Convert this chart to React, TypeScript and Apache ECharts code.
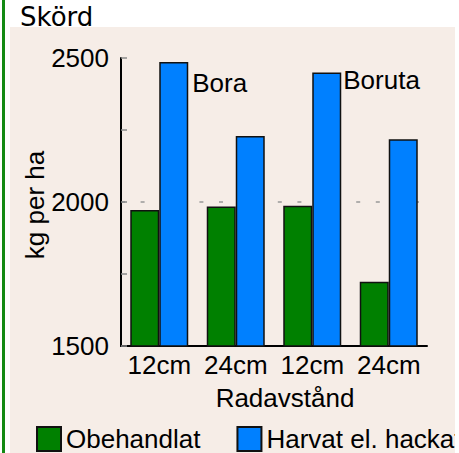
import React, { useEffect, useRef } from "react";
import * as echarts from "echarts";

const categories = ["12cm", "24cm", "12cm", "24cm"];
const untreated = [1972, 1984, 1987, 1723];
const harrowed = [2486, 2229, 2450, 2218];
const varietyLabels = ["Bora", "", "Boruta", ""];
const seriesNames = ["Obehandlat", "Harvat el. hackat"];
const yMin = 1500;
const yMax = 2500;
const yTickStep = 250;
const yLabelStep = 500;

const FONT = "'Liberation Sans', Arial, sans-serif";

export default function App() {
  const ref = useRef<HTMLDivElement>(null);

  useEffect(() => {
    if (!ref.current) return;
    const chart = echarts.init(ref.current, undefined, { renderer: "svg" });
    const labelOffsets: Record<number, [string | number, number]> = {
      0: ["100%", 8],
      2: ["100%", -5],
    };
    const blueData = harrowed.map((v, i) =>
      varietyLabels[i]
        ? {
            value: v,
            label: {
              show: true,
              formatter: varietyLabels[i],
              position: labelOffsets[i] || ["100%", 0],
              offset: [i === 0 ? 4 : 2, 0],
              fontSize: 26,
              fontFamily: FONT,
              color: "#000",
            },
          }
        : v
    );
    chart.setOption({
      animation: false,
      backgroundColor: "transparent",
      textStyle: { fontFamily: FONT },
      title: {
        text: "Skörd",
        left: 20,
        top: 4,
        padding: 0,
        textStyle: {
          fontFamily: "'DejaVu Sans', sans-serif",
          fontSize: 26,
          fontWeight: "normal",
          color: "#000",
        },
      },
      grid: { left: 121, right: 28, top: 58, bottom: 107 },
      legend: {
        data: seriesNames,
        left: 36,
        top: 426,
        width: 900,
        padding: 0,
        icon: "rect",
        itemWidth: 24,
        itemHeight: 24,
        itemGap: 36,
        textStyle: { fontSize: 26, color: "#000", fontFamily: FONT },
      },
      xAxis: {
        type: "category",
        data: categories,
        name: "Radavstånd",
        nameLocation: "middle",
        nameGap: 39,
        nameMoveOverlap: false,
        nameTextStyle: {
          fontSize: 26,
          color: "#000",
          fontFamily: FONT,
          padding: [0, 0, 0, 22],
        },
        axisLine: { show: true, lineStyle: { color: "#000", width: 2 } },
        axisTick: { show: false },
        axisLabel: {
          fontSize: 26,
          color: "#000",
          margin: 6,
          fontFamily: FONT,
          interval: 0,
          hideOverlap: false,
        },
      },
      yAxis: [
        {
          type: "value",
          min: yMin,
          max: yMax,
          interval: yTickStep,
          name: "kg per ha",
          nameLocation: "middle",
          nameGap: 73,
          nameMoveOverlap: false,
          nameTextStyle: {
            fontSize: 26,
            color: "#000",
            fontFamily: FONT,
            padding: [0, 6, 0, 0],
          },
          axisLine: { show: true, lineStyle: { color: "#000", width: 2 } },
          axisTick: {
            show: true,
            inside: true,
            length: 6,
            lineStyle: { color: "#888", width: 1.5 },
          },
          axisLabel: {
            fontSize: 26,
            color: "#000",
            margin: 12,
            fontFamily: FONT,
            formatter: (v: number) => (v % yLabelStep === 0 ? String(v) : ""),
          },
          splitLine: { show: false },
        },
        {
          type: "value",
          min: yMin,
          max: yMax,
          interval: yLabelStep,
          position: "left",
          axisLine: { show: false },
          axisTick: { show: false },
          axisLabel: { show: false },
          splitLine: {
            show: true,
            showMinLine: false,
            showMaxLine: false,
            lineStyle: { color: "#999", width: 1.5, type: [4, 15.6], dashOffset: 0 },
          },
        },
      ],
      series: [
        {
          name: seriesNames[0],
          type: "bar",
          data: untreated,
          barWidth: 29,
          barGap: "0%",
          itemStyle: { color: "#008000", borderColor: "#111", borderWidth: 1.5 },
        },
        {
          name: seriesNames[1],
          type: "bar",
          data: blueData,
          barWidth: 29,
          barGap: "0%",
          itemStyle: { color: "#0080ff", borderColor: "#111", borderWidth: 1.5 },
        },
      ],
    });
    return () => chart.dispose();
  }, []);

  return (
    <div
      style={{
        position: "fixed",
        left: 0,
        top: 0,
        width: 459,
        height: 453,
        background: "#fff",
        overflow: "hidden",
      }}
    >
      <div
        style={{
          position: "absolute",
          left: 10,
          top: 27,
          width: 445,
          height: 426,
          background: "#f6ede7",
        }}
      />
      <div
        style={{
          position: "absolute",
          left: 2,
          top: 0,
          width: 3,
          height: 453,
          background: "#138a13",
        }}
      />
      <div
        ref={ref}
        style={{ position: "absolute", left: 0, top: 0, width: 455, height: 453 }}
      />
    </div>
  );
}
